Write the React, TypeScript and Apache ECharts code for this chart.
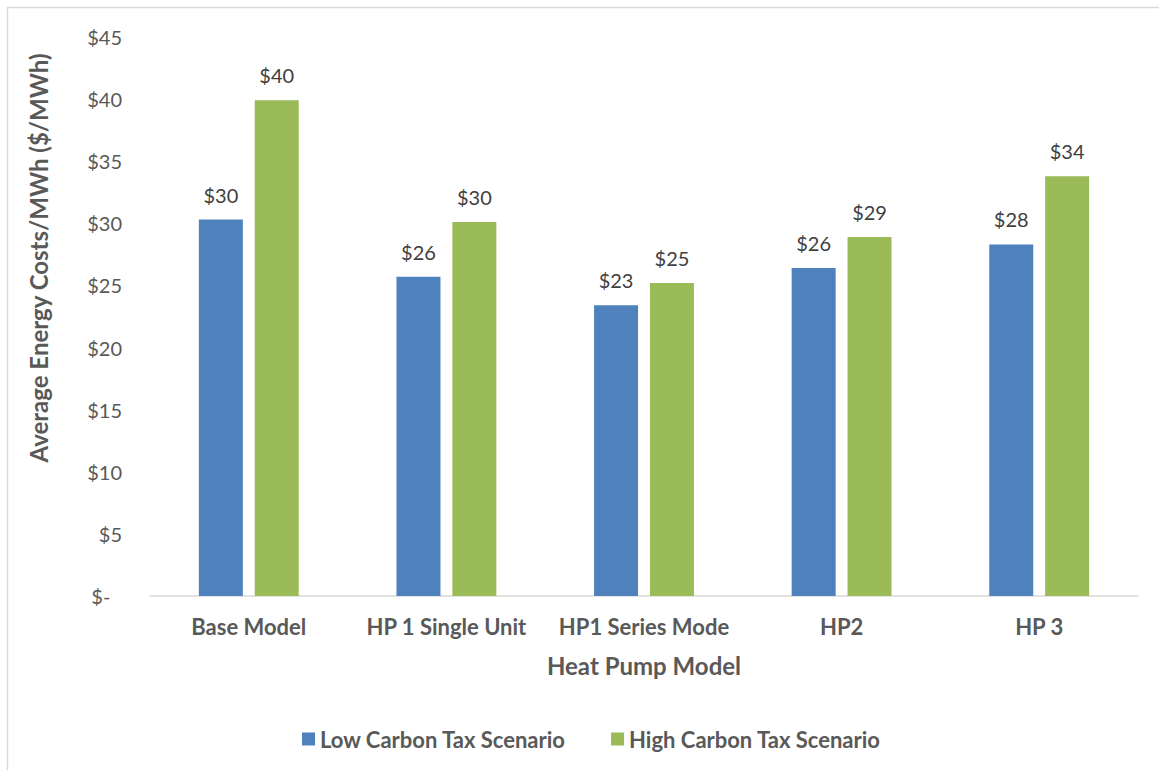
import React, { useEffect, useRef } from "react";
import * as echarts from "echarts";

// Heat pump models on the category axis
const categories = ["Base Model", "HP 1 Single Unit", "HP1 Series Mode", "HP2", "HP 3"];

// Average energy cost per MWh ($/MWh)
const lowCarbonTax = [30.3, 25.7, 23.4, 26.4, 28.3];
const highCarbonTax = [39.9, 30.1, 25.2, 28.9, 33.8];

const seriesNames = ["Low Carbon Tax Scenario", "High Carbon Tax Scenario"];
const yAxisTitle = "Average Energy Costs/MWh ($/MWh)";
const xAxisTitle = "Heat Pump Model";

const FONT = "Lato, 'Noto Sans', sans-serif";
const TEXT = "#595959";

const money = (v: number) => (v === 0 ? "$-\u2007" : "$" + Math.round(v));

export default function App() {
  const ref = useRef<HTMLDivElement>(null);

  useEffect(() => {
    if (!ref.current) return;
    const chart = echarts.init(ref.current, undefined, { renderer: "svg" });

    const label = {
      show: true,
      position: "top" as const,
      distance: 15,
      color: "#404040",
      fontFamily: FONT,
      fontSize: 20,
      formatter: (p: any) => money(p.value),
    };

    chart.setOption({
      animation: false,
      backgroundColor: "#ffffff",
      textStyle: { fontFamily: FONT },
      graphic: [
        {
          type: "rect",
          shape: { x: 7.5, y: 7.5, width: 1200, height: 800 },
          style: { fill: "none", stroke: "#D9D9D9", lineWidth: 1.5 },
          silent: true,
        },
        {
          type: "text",
          x: 38,
          y: 258,
          rotation: Math.PI / 2,
          style: {
            text: yAxisTitle,
            fill: TEXT,
            font: `bold 24px ${FONT}`,
            textAlign: "center",
            textVerticalAlign: "middle",
          },
          silent: true,
        },
      ],
      grid: { left: 150, right: 21, top: 37, bottom: 174 },
      legend: {
        left: 297,
        top: 723,
        itemWidth: 13,
        itemHeight: 13,
        itemGap: 45,
        icon: "rect",
        textStyle: { color: TEXT, fontFamily: FONT, fontSize: 22, fontWeight: "bold" },
        data: seriesNames,
      },
      xAxis: {
        type: "category",
        data: categories,
        name: xAxisTitle,
        nameLocation: "middle",
        nameGap: 57,
        nameTextStyle: { color: TEXT, fontFamily: FONT, fontSize: 24, fontWeight: "bold" },
        axisLine: { show: true, lineStyle: { color: "#D9D9D9", width: 1.5 } },
        axisTick: { show: false },
        axisLabel: {
          color: TEXT,
          fontFamily: FONT,
          fontSize: 22,
          fontWeight: "bold",
          margin: 19,
          interval: 0,
          hideOverlap: false,
        },
      },
      yAxis: {
        type: "value",
        min: 0,
        max: 45,
        interval: 5,
        axisLine: { show: false },
        axisTick: { show: false },
        splitLine: { show: false },
        axisLabel: { color: TEXT, fontFamily: FONT, fontSize: 20, margin: 28, formatter: money },
      },
      series: [
        {
          name: seriesNames[0],
          type: "bar",
          data: lowCarbonTax,
          barWidth: 44,
          barGap: "27%",
          itemStyle: { color: "#4F81BD" },
          label,
        },
        {
          name: seriesNames[1],
          type: "bar",
          data: highCarbonTax,
          barWidth: 44,
          itemStyle: { color: "#9BBB59" },
          label,
        },
      ],
    });

    return () => chart.dispose();
  }, []);

  return (
    <div
      ref={ref}
      style={{ position: "absolute", left: 0, top: 0, width: 1159, height: 770 }}
    />
  );
}
